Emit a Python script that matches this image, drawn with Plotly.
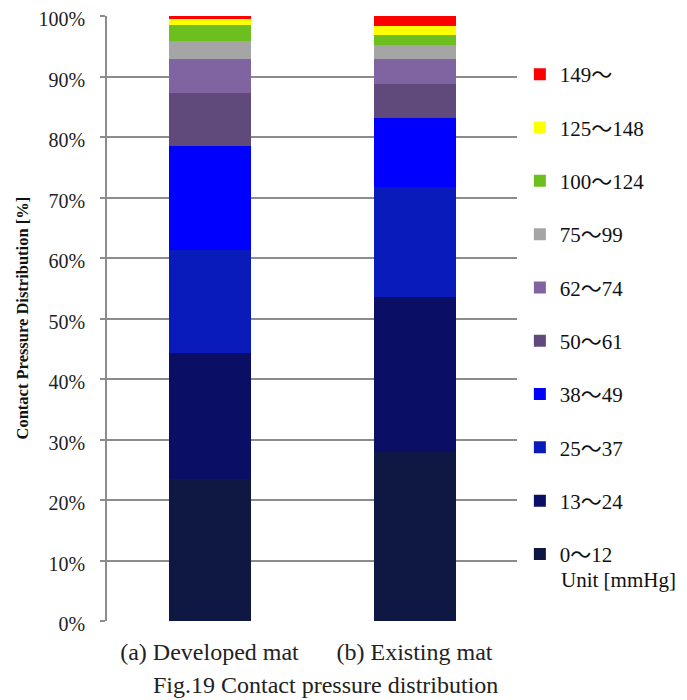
import plotly.graph_objects as go

categories = ["(a) Developed mat", "(b) Existing mat"]
ranges = ["0～12", "13～24", "25～37", "38～49", "50～61", "62～74",
          "75～99", "100～124", "125～148", "149～"]
developed = [23.5, 20.8, 17.0, 17.2, 8.8, 5.6, 3.0, 2.6, 1.0, 0.5]
existing = [28.0, 25.5, 18.3, 11.4, 5.6, 4.1, 2.3, 1.7, 1.5, 1.6]
colors = ["#0f1842", "#0a0f65", "#0a1bbb", "#0000ff", "#5f4a7b", "#8064a2",
          "#a5a5a5", "#6cbf1f", "#ffff00", "#ff0000"]
y_ticks = [0, 10, 20, 30, 40, 50, 60, 70, 80, 90, 100]

fig = go.Figure()
n = len(ranges)
for i, r in enumerate(ranges):
    fig.add_trace(go.Bar(
        x=categories, y=[developed[i], existing[i]], name=r,
        marker=dict(color=colors[i], line=dict(width=0)),
        legendgroup=r, legendrank=n - i, width=0.4,
    ))

serif = "Liberation Serif"
legend_font = "Liberation Serif, Noto Sans CJK JP"
# page body has an 8px default margin; figure sized/offset to compensate
fig.update_layout(
    barmode="stack",
    width=679, height=692,
    margin=dict(l=99, r=170, t=8, b=79, autoexpand=False),
    plot_bgcolor="white", paper_bgcolor="white",
    font=dict(family=serif, color="#222", size=16),
    showlegend=True,
    legend=dict(x=1.007, xanchor="left", y=0.937, yanchor="top",
                traceorder="grouped", tracegroupgap=23,
                font=dict(family=legend_font, size=21, color="#111"),
                itemwidth=30),
)
fig.update_yaxes(
    range=[0, 100], tickvals=y_ticks,
    ticktext=[f"{v}%" for v in y_ticks],
    showgrid=True, gridcolor="#8c8c8c", gridwidth=1.5,
    showline=True, linecolor="#8c8c8c", linewidth=1.5,
    ticks="outside", ticklen=5, tickcolor="#8c8c8c", tickwidth=1.5,
    ticklabelstandoff=11, ticklabeloverflow="allow", ticklabelshift=3,
    tickfont=dict(family=serif, size=20, color="#222"),
    zeroline=False, automargin=False,
)
fig.update_xaxes(
    showline=False, ticks="", automargin=False, ticklabelstandoff=14,
    tickfont=dict(family=serif, size=24, color="#222"),
)
fig.add_annotation(text="<b>Contact Pressure Distribution [%]</b>", xref="paper", yref="paper",
                   x=-0.2073, y=0.5, xanchor="center", yanchor="middle", textangle=-90,
                   showarrow=False, font=dict(family=serif, size=16.5, color="#111"))
fig.add_annotation(text="Unit [mmHg]", xref="paper", yref="paper",
                   x=1.102, y=0.0678, xanchor="left", yanchor="middle",
                   showarrow=False, font=dict(family=serif, size=21, color="#111"))
fig.add_annotation(text="Fig.19 Contact pressure distribution", xref="paper", yref="paper",
                   x=0.534, y=-0.1058, xanchor="center", yanchor="middle",
                   showarrow=False, font=dict(family=serif, size=24, color="#222"))

fig.write_html("out.html")
